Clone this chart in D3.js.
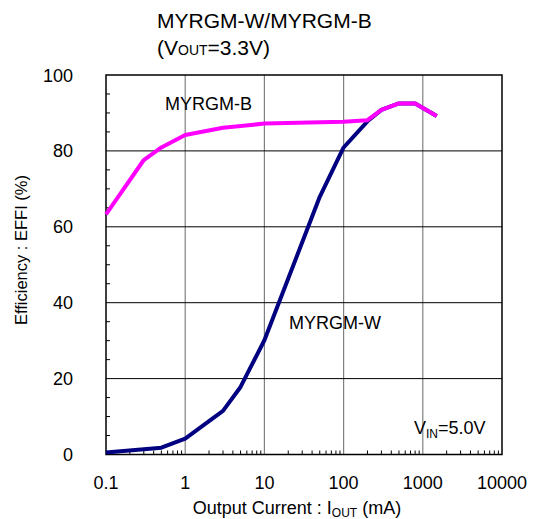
<!DOCTYPE html>
<html><head><meta charset="utf-8">
<script src="https://cdn.jsdelivr.net/npm/d3@7"></script>
<style>body{margin:0;background:#fff}svg{display:block;font-family:"Liberation Sans",Arial,sans-serif}</style>
</head><body>
<script>
// data
const xTicks = [0.1, 1, 10, 100, 1000, 10000];
const xTickLabels = ["0.1", "1", "10", "100", "1000", "10000"];
const yTicks = [0, 20, 40, 60, 80, 100];
const currentB = [0.1, 0.3, 0.5, 1, 3, 10, 100, 200, 300, 500, 800, 1500];
const effB = [63.3, 77.6, 80.9, 84.2, 86.1, 87.2, 87.7, 88.1, 90.8, 92.5, 92.5, 89.2];
const currentW = [0.1, 0.5, 1, 3, 5, 10, 50, 100, 200, 300, 500, 800, 1500];
const effW = [0.5, 1.8, 4.2, 11.5, 17.8, 30.1, 67.9, 80.9, 87.8, 90.8, 92.5, 92.5, 89.2];

const W = 537, H = 519;
const svg = d3.select("body").append("svg").attr("width", W).attr("height", H);
const pL = 106, pR = 502, pT = 75, pB = 454.5;
const x = d3.scaleLog().domain([0.1, 10000]).range([pL, pR]);
const y = d3.scaleLinear().domain([0, 100]).range([pB, pT]);

// grid
const g = svg.append("g");
g.selectAll(".vg").data(xTicks.slice(1, -1)).enter().append("line")
  .attr("x1", d => x(d)).attr("x2", d => x(d)).attr("y1", pT).attr("y2", pB)
  .attr("stroke", "#808080").attr("stroke-width", 1.2);
g.selectAll(".hg").data(yTicks.slice(1, -1)).enter().append("line")
  .attr("x1", pL).attr("x2", pR).attr("y1", d => y(d)).attr("y2", d => y(d))
  .attr("stroke", "#000").attr("stroke-width", 1);

// minor ticks
const minorX = [];
for (let dec = 0.1; dec < 10000; dec *= 10) for (let k = 2; k <= 9; k++) minorX.push(dec * k);
g.selectAll(".mx").data(minorX).enter().append("line")
  .attr("x1", d => x(d)).attr("x2", d => x(d)).attr("y1", pB).attr("y2", pB - 4)
  .attr("stroke", "#000").attr("stroke-width", 1);
const minorY = d3.range(5, 100, 5).filter(v => v % 20 !== 0);
g.selectAll(".my").data(minorY).enter().append("line")
  .attr("x1", pL).attr("x2", pL + 4).attr("y1", d => y(d)).attr("y2", d => y(d))
  .attr("stroke", "#000").attr("stroke-width", 1);

// frame
svg.append("rect").attr("x", pL).attr("y", pT).attr("width", pR - pL).attr("height", pB - pT)
  .attr("fill", "none").attr("stroke", "#000").attr("stroke-width", 1.5);

// curves
const line = d3.line().x(d => x(d[0])).y(d => y(d[1]));
svg.append("path").datum(currentW.map((c, i) => [c, effW[i]])).attr("d", line)
  .attr("fill", "none").attr("stroke", "#000080").attr("stroke-width", 4).attr("stroke-linejoin", "round");
svg.append("path").datum(currentB.map((c, i) => [c, effB[i]])).attr("d", line)
  .attr("fill", "none").attr("stroke", "#ff00ff").attr("stroke-width", 4).attr("stroke-linejoin", "round");

// axes labels
svg.selectAll(".xl").data(xTicks).enter().append("text")
  .attr("x", d => x(d)).attr("y", 489).attr("text-anchor", "middle")
  .attr("font-size", 18).text((d, i) => xTickLabels[i]);
svg.selectAll(".yl").data(yTicks).enter().append("text")
  .attr("x", 73).attr("y", d => y(d) + 6.5).attr("text-anchor", "end")
  .attr("font-size", 18).text(d => d);

// axis titles
const xt = svg.append("text").attr("x", 297).attr("y", 514).attr("text-anchor", "middle").attr("font-size", 18);
xt.append("tspan").text("Output Current : I");
xt.append("tspan").attr("font-size", 12).attr("dy", 3).text("OUT");
xt.append("tspan").attr("dy", -3).text(" (mA)");

svg.append("text").attr("transform", "translate(27,250) rotate(-90)").attr("text-anchor", "middle")
  .attr("font-size", 16.5).text("Efficiency : EFFI (%)");

// title
svg.append("text").attr("x", 157).attr("y", 28).attr("font-size", 21).text("MYRGM-W/MYRGM-B");
const t2 = svg.append("text").attr("x", 157).attr("y", 55).attr("font-size", 21);
t2.append("tspan").text("(V");
t2.append("tspan").attr("font-size", 14).text("OUT");
t2.append("tspan").text("=3.3V)");

// series labels
svg.append("text").attr("x", 165).attr("y", 109.5).attr("font-size", 18).text("MYRGM-B");
svg.append("text").attr("x", 289).attr("y", 328.5).attr("font-size", 18).text("MYRGM-W");
const vin = svg.append("text").attr("x", 414).attr("y", 434).attr("font-size", 18);
vin.append("tspan").text("V");
vin.append("tspan").attr("font-size", 12).attr("dy", 4).text("IN");
vin.append("tspan").attr("dy", -4).text("=5.0V");
</script>
</body></html>
